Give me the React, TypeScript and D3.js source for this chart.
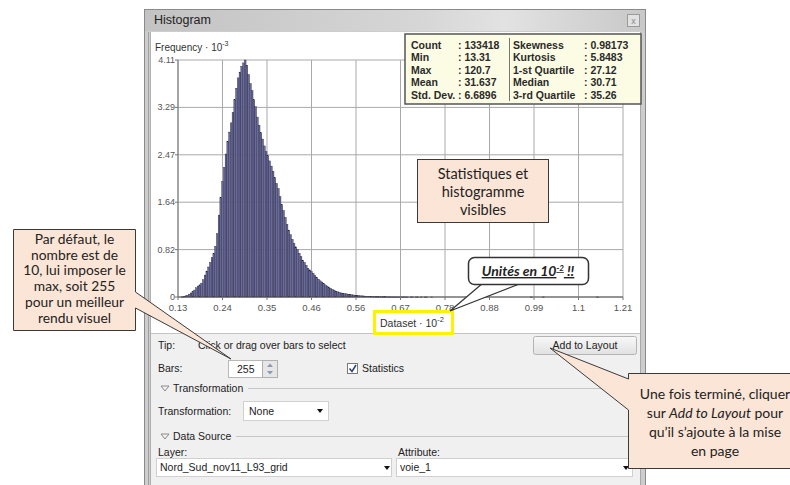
import React from "react";
import * as d3 from "d3";

// Frequency (x 10^-3) of each of the 255 bars
const barFrequencies: number[] = [
  0, 0, 0.003, 0.01, 0.02, 0.03, 0.05, 0.07, 0.09, 0.12, 0.16, 0.19, 0.21, 0.24, 0.3,
  0.38, 0.45, 0.52, 0.6, 0.68, 0.76, 0.88, 1.1, 1.42, 1.72, 2.0, 2.25, 2.48, 2.7, 2.86,
  3.02, 3.2, 3.42, 3.62, 3.8, 3.9, 4.0, 4.06, 4.11, 4.02, 3.86, 3.7, 3.58, 3.42, 3.3,
  3.12, 2.98, 2.85, 2.74, 2.62, 2.52, 2.45, 2.36, 2.27, 2.18, 2.07, 1.97, 1.88, 1.74, 1.6,
  1.5, 1.38, 1.26, 1.16, 1.08, 1.0, 0.93, 0.87, 0.82, 0.76, 0.7, 0.64, 0.6, 0.55, 0.5,
  0.47, 0.44, 0.41, 0.37, 0.34, 0.31, 0.28, 0.26, 0.23, 0.21, 0.19, 0.17, 0.15, 0.13, 0.12,
  0.1, 0.09, 0.08, 0.07, 0.065, 0.06, 0.055, 0.05, 0.045, 0.04, 0.035, 0.03, 0.03, 0.025, 0.02,
  0.02, 0.018, 0.015, 0.013, 0.012, 0.01, 0.009, 0.008, 0.007, 0.006, 0.005, 0.005, 0.004, 0.004, 0.003,
  0.003, 0.003, 0.002, 0.002, 0.002, 0.001, 0.002, 0.001, 0.001, 0.002, 0.001, 0.001, 0, 0.001, 0.001,
  0, 0.001, 0.001, 0, 0.001, 0, 0.001, 0.001, 0, 0, 0.001, 0, 0, 0, 0,
  0, 0, 0, 0, 0, 0, 0, 0, 0, 0, 0, 0, 0, 0, 0,
  0, 0, 0, 0, 0, 0, 0, 0, 0, 0, 0.001, 0, 0, 0, 0,
  0, 0, 0, 0, 0, 0, 0, 0, 0, 0, 0, 0, 0, 0, 0,
  0, 0, 0, 0, 0, 0, 0, 0.001, 0, 0, 0, 0, 0, 0, 0.001,
  0, 0, 0, 0, 0, 0, 0, 0, 0, 0, 0, 0, 0, 0, 0,
  0, 0, 0, 0, 0, 0, 0, 0, 0, 0, 0, 0, 0, 0, 0,
  0.001, 0, 0, 0, 0, 0, 0, 0, 0, 0, 0, 0, 0, 0, 0,
];

const dataMin = 0.1331; // x 10^-2
const dataMax = 1.207;
const freqMax = 4.11;

const xTickLabels = ["0.13", "0.24", "0.35", "0.46", "0.56", "0.67", "0.78", "0.88", "0.99", "1.1", "1.21"];
const yTickLabels = ["0", "0.82", "1.64", "2.47", "3.29", "4.11"];

const statNamesA = ["Count", "Min", "Max", "Mean", "Std. Dev."];
const statValuesA = ["133418", "13.31", "120.7", "31.637", "6.6896"];
const statNamesB = ["Skewness", "Kurtosis", "1-st Quartile", "Median", "3-rd Quartile"];
const statValuesB = ["0.98173", "5.8483", "27.12", "30.71", "35.26"];

const leftNoteLines = ["Par défaut, le", "nombre est de", "10, lui imposer le", "max, soit 255", "pour un meilleur", "rendu visuel"];
const centerNoteLines = ["Statistiques et", "histogramme", "visibles"];

const UI = "'Liberation Sans', Arial, sans-serif";
const NOTE = "Lato, 'Open Sans', sans-serif";

export default function App() {
  const W = 790, H = 485;
  const plotL = 178, plotR = 623, plotT = 60, plotB = 297;
  const x = d3.scaleLinear().domain([dataMin, dataMax]).range([plotL, plotR]);
  const y = d3.scaleLinear().domain([0, freqMax]).range([plotB, plotT]);
  const nBins = barFrequencies.length;
  const binW = (dataMax - dataMin) / nBins;
  const xTicks = xTickLabels.map((l, k) => ({ v: dataMin + (k * (dataMax - dataMin)) / (xTickLabels.length - 1), l }));
  const yTicks = yTickLabels.map((l, k) => ({ v: (k * freqMax) / (yTickLabels.length - 1), l }));

  const rowY = (i: number) => 49 + i * 12.4;

  return (
    <svg width={W} height={H} viewBox={`0 0 ${W} ${H}`} style={{ position: "absolute", left: 0, top: 0, background: "#fff" }}>
      <defs>
        <linearGradient id="tb" x1="0" x2="1" y1="0" y2="0">
          <stop offset="0" stopColor="#c3c3c3" />
          <stop offset="0.55" stopColor="#d6d6d6" />
          <stop offset="0.72" stopColor="#e2e2e2" />
          <stop offset="1" stopColor="#c8c8c8" />
        </linearGradient>
        <linearGradient id="btn" x1="0" x2="0" y1="0" y2="1">
          <stop offset="0" stopColor="#f8f8f8" />
          <stop offset="1" stopColor="#e1e1e1" />
        </linearGradient>
      </defs>
      <rect x={0} y={0} width={W} height={H} fill="#fff" />

      {/* dialog frame */}
      <rect x={144.5} y={9.5} width={501} height={490} fill="#cdcdcd" stroke="#8a8a8a" />
      <rect x={145} y={10} width={500} height={21} fill="url(#tb)" />
      <text x={154} y={24} fontFamily={UI} fontSize={12.5} fill="#222">Histogram</text>
      <rect x={627.5} y={14.5} width={12} height={12} fill="#e2e2e2" stroke="#9a9a9a" />
      <text x={633.5} y={23.5} textAnchor="middle" fontFamily={UI} fontSize={9} fill="#888">x</text>
      <line x1={148.5} y1={32} x2={148.5} y2={490} stroke="#a0a0a0" />
      <line x1={150.5} y1={32} x2={150.5} y2={490} stroke="#b0b0b0" />
      <line x1={640.5} y1={32} x2={640.5} y2={490} stroke="#a8a8a8" />

      {/* plot panel */}
      <rect x={151} y={32} width={489} height={301} fill="#fff" />
      <rect x={151} y={333} width={489} height={160} fill="#f0f0f0" />
      <line x1={151} y1={333.5} x2={640} y2={333.5} stroke="#c4c4c4" />

      {/* grid */}
      {xTicks.map((t, i) => (
        <line key={"gx" + i} x1={x(t.v)} x2={x(t.v)} y1={plotT} y2={plotB} stroke="#a9a9a9" strokeWidth={1} />
      ))}
      {yTicks.map((t, i) => (
        <line key={"gy" + i} x1={plotL} x2={plotR} y1={y(t.v)} y2={y(t.v)} stroke="#a9a9a9" strokeWidth={1} />
      ))}

      {/* bars */}
      {barFrequencies.map((v, i) =>
        v > 0 ? (
          <rect
            key={"b" + i}
            x={x(dataMin + i * binW)}
            width={x(dataMin + (i + 1) * binW) - x(dataMin + i * binW)}
            y={y(v)}
            height={Math.max(plotB - y(v), 0.6)}
            fill="#6a6a9c"
            stroke="#1a1a30"
            strokeWidth={0.35}
          />
        ) : null
      )}

      {/* axes */}
      <line x1={plotL} x2={plotL} y1={plotT} y2={plotB} stroke="#777" />
      <line x1={plotL} x2={plotR} y1={plotB} y2={plotB} stroke="#555" />
      {yTicks.map((t, i) => (
        <g key={"yt" + i}>
          <line x1={plotL - 3} x2={plotL} y1={y(t.v)} y2={y(t.v)} stroke="#777" />
          <text x={plotL - 3} y={y(t.v) + 3} textAnchor="end" fontFamily={UI} fontSize={9} fill="#555">{t.l}</text>
        </g>
      ))}
      {xTicks.map((t, i) => (
        <g key={"xt" + i}>
          <line x1={x(t.v)} x2={x(t.v)} y1={plotB} y2={plotB + 3} stroke="#777" />
          <text x={x(t.v)} y={311} textAnchor="middle" fontFamily={UI} fontSize={9.5} fill="#555">{t.l}</text>
        </g>
      ))}
      <text x={155} y={51} fontFamily={UI} fontSize={10} fill="#333">
        Frequency · 10<tspan dy={-5} fontSize={7}>-3</tspan>
      </text>
      <text x={380} y={327} fontFamily={UI} fontSize={10.5} fill="#333">
        Dataset · 10<tspan dy={-5} fontSize={7.5}>-2</tspan>
      </text>
      <rect x={374.5} y={311.5} width={78} height={22} fill="none" stroke="#fff200" strokeWidth={3} />

      {/* statistics box */}
      <rect x={405} y={34} width={236} height={70} fill="#fcfce4" stroke="#555" strokeWidth={1.5} />
      <line x1={509.5} x2={509.5} y1={38} y2={101} stroke="#777" />
      {statNamesA.map((n, i) => (
        <g key={"sa" + i} fontFamily={UI} fontSize={10.5} fontWeight="bold" fill="#2a2a2a">
          <text x={411} y={rowY(i)}>{n}</text>
          <text x={458} y={rowY(i)}>: {statValuesA[i]}</text>
          <text x={513} y={rowY(i)}>{statNamesB[i]}</text>
          <text x={584} y={rowY(i)}>: {statValuesB[i]}</text>
        </g>
      ))}

      {/* lower controls */}
      <g fontFamily={UI} fontSize={10.5} fill="#222">
        <text x={158} y={349}>Tip:</text>
        <text x={198} y={349}>Click or drag over bars to select</text>
        <rect x={533.5} y={336.5} width={103} height={18} rx={2} fill="url(#btn)" stroke="#b4b4b4" />
        <text x={585} y={349} textAnchor="middle">Add to Layout</text>

        <text x={158} y={372}>Bars:</text>
        <rect x={228.5} y={360.5} width={34} height={17} fill="#fff" stroke="#b8b8b8" />
        <text x={237} y={373}>255</text>
        <rect x={262.5} y={360.5} width={15} height={17} fill="#e6e6e6" stroke="#b0b0b0" />
        <path d="M267,367 L270,363.5 L273,367 Z" fill="#8a9ab0" />
        <path d="M267,371 L270,374.5 L273,371 Z" fill="#8a9ab0" />
        <rect x={347.5} y={363.5} width={10} height={10} fill="#fff" stroke="#7a7a7a" />
        <path d="M349.5,368.5 L352,371.5 L356,365" fill="none" stroke="#2a3f7a" strokeWidth={1.5} />
        <text x={362} y={372}>Statistics</text>

        <path d="M161,386 L169,386 L165,391 Z" fill="none" stroke="#8a8a8a" />
        <text x={173} y={392}>Transformation</text>
        <line x1={248} x2={634} y1={388.5} y2={388.5} stroke="#c6c6c6" />
        <text x={158} y={415}>Transformation:</text>
        <rect x={243.5} y={401.5} width={85} height={19} fill="#fff" stroke="#d0d0d0" />
        <text x={249} y={415}>None</text>
        <path d="M317,409 L323,409 L320,413 Z" fill="#111" />

        <path d="M161,434 L169,434 L165,439 Z" fill="none" stroke="#8a8a8a" />
        <text x={173} y={440}>Data Source</text>
        <line x1={236} x2={634} y1={436.5} y2={436.5} stroke="#c6c6c6" />
        <text x={158} y={456}>Layer:</text>
        <text x={398} y={456}>Attribute:</text>
        <rect x={156.5} y={458.5} width={235} height={18} fill="#fff" stroke="#d0d0d0" />
        <text x={160} y={471}>Nord_Sud_nov11_L93_grid</text>
        <path d="M384,466 L390,466 L387,470 Z" fill="#111" />
        <rect x={396.5} y={458.5} width={236} height={18} fill="#fff" stroke="#d0d0d0" />
        <text x={400} y={471}>voie_1</text>
        <path d="M623,466 L629,466 L626,470 Z" fill="#111" />
      </g>

      {/* callouts */}
      <path
        d="M13.5,229.5 H135.5 V292 L231,359 L135.5,308 V330.5 H13.5 Z"
        fill="#fbe5d6"
        stroke="#3a3a3a"
        strokeWidth={1}
      />
      {leftNoteLines.map((l, i) => (
        <text key={"ln" + i} x={74.5} y={244 + i * 15.7} textAnchor="middle" fontFamily={NOTE} fontSize={13.8} fill="#222">{l}</text>
      ))}

      <rect x={417.5} y={159.5} width={131} height={63} fill="#fbe5d6" stroke="#3a3a3a" />
      {centerNoteLines.map((l, i) => (
        <text key={"cn" + i} x={483} y={179 + i * 18} textAnchor="middle" fontFamily={NOTE} fontSize={14.5} fill="#222">{l}</text>
      ))}

      <path d="M483,283 L450,311 L522,283 Z" fill="#fff" stroke="#333" strokeWidth={1.2} />
      <rect x={468.5} y={257.5} width={120} height={27} rx={6} fill="#fff" stroke="#333" strokeWidth={1.5} />
      <text x={528} y={276} textAnchor="middle" fontFamily={NOTE} fontSize={14} fontWeight="bold" fontStyle="italic" textDecoration="underline" fill="#222">
        Unités en 10<tspan dy={-5} fontSize={8}>-2</tspan><tspan dy={5}> !!</tspan>
      </text>

      <path
        d="M628.5,373.5 H795 V468.5 H628.5 V410 L550,348 L628.5,379 Z"
        fill="#fbe5d6"
        stroke="#3a3a3a"
        strokeWidth={1}
      />
      <g fontFamily={NOTE} fontSize={14} fill="#222" textAnchor="middle">
        <text x={715} y={399}>Une fois terminé, cliquer</text>
        <text x={715} y={418}>
          sur <tspan fontStyle="italic">Add to Layout</tspan> pour
        </text>
        <text x={715} y={437}>qu’il s’ajoute à la mise</text>
        <text x={715} y={456}>en page</text>
      </g>
    </svg>
  );
}
